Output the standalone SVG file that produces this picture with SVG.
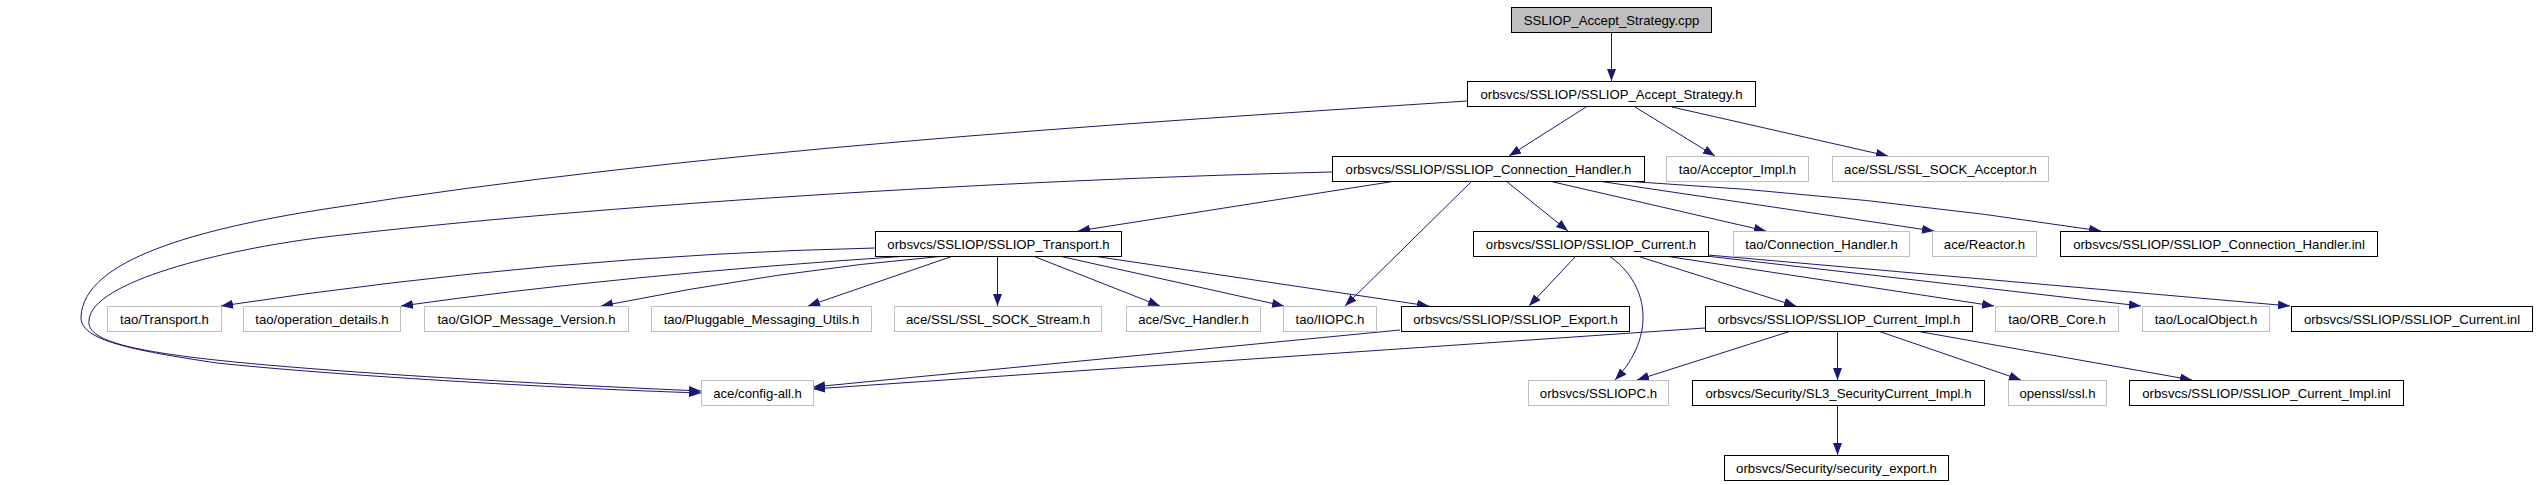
<svg xmlns="http://www.w3.org/2000/svg" width="2536" height="485" viewBox="0 0 2536 485">
<style>
.n rect{fill:#fff;stroke:#000;stroke-width:1}
.u rect{fill:#fff;stroke:#bfbfbf;stroke-width:1}
.root rect{fill:#bfbfbf;stroke:#000;stroke-width:1}
text{font-family:"Liberation Sans",Arial,sans-serif;font-size:13.2px;fill:#000;text-anchor:middle}
#edges path{fill:none;stroke:#191970;stroke-width:1;marker-end:url(#arr)}
</style>
<defs>
<marker id="arr" markerUnits="userSpaceOnUse" markerWidth="12" markerHeight="9" refX="12" refY="4.5" orient="auto" viewBox="0 0 12 9">
<path d="M0,0 L12,4.5 L0,9 z" fill="#191970"/>
</marker>
</defs>
<rect width="2536" height="485" fill="#fff"/>
<g id="edges">
<path d="M1611.5,32 L1611.5,81"/>
<path d="M1586,107 L1509,156"/>
<path d="M1635,107 L1715,156"/>
<path d="M1672,107 L1888,156"/>
<path d="M1467,101 C1100,125 700,150 325,209 C197,229 83,260 81,317 C80,340 130,350 217,363 C330,375 550,388 701,393"/>
<path d="M1396,181 L1078,231"/>
<path d="M1472,181 L1345,306"/>
<path d="M1506,181 L1568,231"/>
<path d="M1549,181 L1766,231"/>
<path d="M1598,181 L1934,231"/>
<path d="M1624,181 Q1870,195 2101,231"/>
<path d="M1332,172 C1000,180 600,205 325,237 C220,250 92,282 89,320 C86,338 120,348 190,357 C300,371 540,384 701,391"/>
<path d="M875,248 Q560,255 221,306"/>
<path d="M908,256 Q620,275 401,306"/>
<path d="M945,256 Q780,270 601,306"/>
<path d="M953,256 L808,306"/>
<path d="M997.5,256 L997.5,306"/>
<path d="M1033,256 L1160,306"/>
<path d="M1059,256 L1284,306"/>
<path d="M1093,256 L1429,306"/>
<path d="M1576,256 L1529,306"/>
<path d="M1609,256 C1648,282 1658,335 1615,380"/>
<path d="M1637,256 L1796,306"/>
<path d="M1665,256 L1994,306"/>
<path d="M1706,256 L2141,306"/>
<path d="M1708,255 L2290,306"/>
<path d="M1400,330 L813,387"/>
<path d="M1705,328 L813,389"/>
<path d="M1791,331 L1637,380"/>
<path d="M1837.5,331 L1837.5,380"/>
<path d="M1878,331 L2021,380"/>
<path d="M1916,331 L2192,380"/>
<path d="M1837.5,405 L1837.5,455"/>
</g>
<g id="cpp" class="root"><rect x="1511.5" y="7.5" width="200" height="25"/><text x="1611.5" y="24.5">SSLIOP_Accept_Strategy.cpp</text></g>
<g id="accept_strategy_h" class="n"><rect x="1467.5" y="81.5" width="288" height="25"/><text x="1611.5" y="98.5">orbsvcs/SSLIOP/SSLIOP_Accept_Strategy.h</text></g>
<g id="connection_handler_h" class="n"><rect x="1332.5" y="156.5" width="312" height="25"/><text x="1488.5" y="173.5">orbsvcs/SSLIOP/SSLIOP_Connection_Handler.h</text></g>
<g id="acceptor_impl_h" class="u"><rect x="1666.5" y="156.5" width="142" height="25"/><text x="1737.5" y="173.5">tao/Acceptor_Impl.h</text></g>
<g id="ssl_sock_acceptor_h" class="u"><rect x="1832.5" y="156.5" width="216" height="25"/><text x="1940.5" y="173.5">ace/SSL/SSL_SOCK_Acceptor.h</text></g>
<g id="transport_h" class="n"><rect x="875.5" y="231.5" width="246" height="25"/><text x="998.5" y="248.5">orbsvcs/SSLIOP/SSLIOP_Transport.h</text></g>
<g id="current_h" class="n"><rect x="1473.5" y="231.5" width="235" height="25"/><text x="1591" y="248.5">orbsvcs/SSLIOP/SSLIOP_Current.h</text></g>
<g id="tao_connection_handler_h" class="u"><rect x="1733.5" y="231.5" width="176" height="25"/><text x="1821.5" y="248.5">tao/Connection_Handler.h</text></g>
<g id="reactor_h" class="u"><rect x="1932.5" y="231.5" width="104" height="25"/><text x="1984.5" y="248.5">ace/Reactor.h</text></g>
<g id="connection_handler_inl" class="n"><rect x="2060.5" y="231.5" width="317" height="25"/><text x="2219" y="248.5">orbsvcs/SSLIOP/SSLIOP_Connection_Handler.inl</text></g>
<g id="tao_transport_h" class="u"><rect x="107.5" y="306.5" width="114" height="25"/><text x="164.5" y="323.5">tao/Transport.h</text></g>
<g id="operation_details_h" class="u"><rect x="243.5" y="306.5" width="157" height="25"/><text x="322" y="323.5">tao/operation_details.h</text></g>
<g id="giop_message_version_h" class="u"><rect x="424.5" y="306.5" width="204" height="25"/><text x="526.5" y="323.5">tao/GIOP_Message_Version.h</text></g>
<g id="pluggable_messaging_utils_h" class="u"><rect x="651.5" y="306.5" width="220" height="25"/><text x="761.5" y="323.5">tao/Pluggable_Messaging_Utils.h</text></g>
<g id="ssl_sock_stream_h" class="u"><rect x="894.5" y="306.5" width="207" height="25"/><text x="998" y="323.5">ace/SSL/SSL_SOCK_Stream.h</text></g>
<g id="svc_handler_h" class="u"><rect x="1126.5" y="306.5" width="134" height="25"/><text x="1193.5" y="323.5">ace/Svc_Handler.h</text></g>
<g id="iiopc_h" class="u"><rect x="1283.5" y="306.5" width="93" height="25"/><text x="1330" y="323.5">tao/IIOPC.h</text></g>
<g id="export_h" class="n"><rect x="1401.5" y="306.5" width="228" height="25"/><text x="1515.5" y="323.5">orbsvcs/SSLIOP/SSLIOP_Export.h</text></g>
<g id="current_impl_h" class="n"><rect x="1705.5" y="306.5" width="267" height="25"/><text x="1839" y="323.5">orbsvcs/SSLIOP/SSLIOP_Current_Impl.h</text></g>
<g id="orb_core_h" class="u"><rect x="1995.5" y="306.5" width="123" height="25"/><text x="2057" y="323.5">tao/ORB_Core.h</text></g>
<g id="localobject_h" class="u"><rect x="2142.5" y="306.5" width="127" height="25"/><text x="2206" y="323.5">tao/LocalObject.h</text></g>
<g id="current_inl" class="n"><rect x="2291.5" y="306.5" width="241" height="25"/><text x="2412" y="323.5">orbsvcs/SSLIOP/SSLIOP_Current.inl</text></g>
<g id="config_all_h" class="u"><rect x="701.5" y="380.5" width="112" height="25"/><text x="757.5" y="397.5">ace/config-all.h</text></g>
<g id="ssliopc_h" class="u"><rect x="1528.5" y="380.5" width="140" height="25"/><text x="1598.5" y="397.5">orbsvcs/SSLIOPC.h</text></g>
<g id="sl3_securitycurrent_impl_h" class="n"><rect x="1692.5" y="380.5" width="292" height="25"/><text x="1838.5" y="397.5">orbsvcs/Security/SL3_SecurityCurrent_Impl.h</text></g>
<g id="openssl_ssl_h" class="u"><rect x="2008.5" y="380.5" width="98" height="25"/><text x="2057.5" y="397.5">openssl/ssl.h</text></g>
<g id="current_impl_inl" class="n"><rect x="2129.5" y="380.5" width="274" height="25"/><text x="2266.5" y="397.5">orbsvcs/SSLIOP/SSLIOP_Current_Impl.inl</text></g>
<g id="security_export_h" class="n"><rect x="1724.5" y="455.5" width="224" height="25"/><text x="1836.5" y="472.5">orbsvcs/Security/security_export.h</text></g>
</svg>
